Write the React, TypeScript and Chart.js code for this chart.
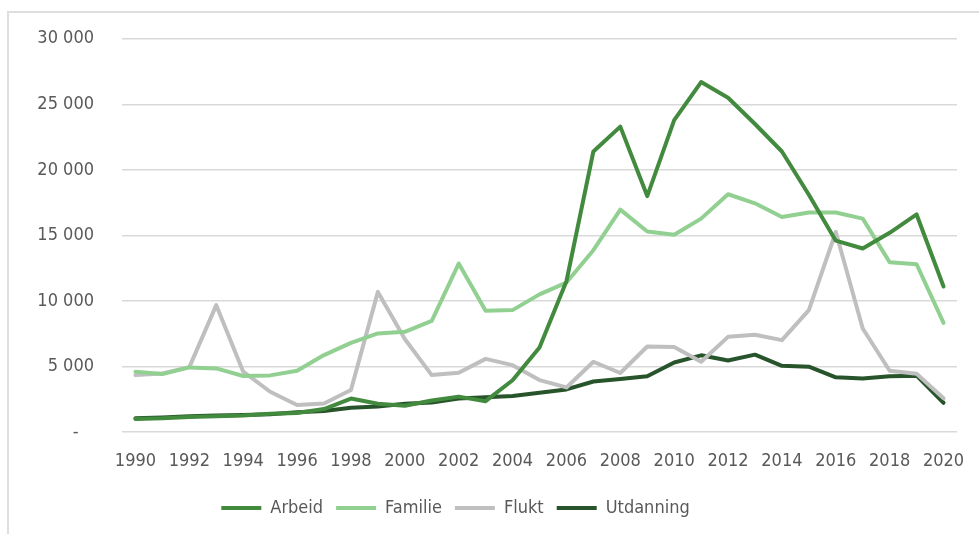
import React, { useEffect, useRef } from "react";
import { Chart, registerables } from "chart.js";

Chart.register(...registerables);

const years = [
  "1990", "1991", "1992", "1993", "1994", "1995", "1996", "1997", "1998", "1999",
  "2000", "2001", "2002", "2003", "2004", "2005", "2006", "2007", "2008", "2009",
  "2010", "2011", "2012", "2013", "2014", "2015", "2016", "2017", "2018", "2019", "2020",
];

const arbeid = [
  1000, 1050, 1150, 1200, 1250, 1400, 1450, 1750, 2550, 2150,
  2000, 2400, 2700, 2350, 3950, 6450, 11500, 21400, 23300, 18000,
  23800, 26700, 25500, 23500, 21400, 18100, 14600, 14000, 15200, 16600, 11100,
];

const familie = [
  4600, 4420, 4930, 4850, 4270, 4320, 4670, 5870, 6800, 7520,
  7640, 8480, 12850, 9250, 9300, 10500, 11400, 13870, 16970, 15300,
  15050, 16280, 18140, 17450, 16400, 16750, 16750, 16280, 12950, 12800, 8330,
];

const flukt = [
  4340, 4470, 4950, 9680, 4600, 3070, 2060, 2180, 3200, 10690,
  7100, 4340, 4520, 5580, 5100, 3960, 3400, 5360, 4500, 6520,
  6480, 5360, 7260, 7420, 7010, 9300, 15260, 7900, 4670, 4450, 2570,
];

const utdanning = [
  1040, 1100, 1200, 1250, 1300, 1350, 1500, 1600, 1850, 1950,
  2150, 2250, 2550, 2650, 2750, 3000, 3250, 3850, 4050, 4250,
  5300, 5850, 5450, 5900, 5050, 4980, 4170, 4090, 4250, 4300, 2230,
];

const seriesNames = ["Arbeid", "Familie", "Flukt", "Utdanning"];
const seriesColors = ["#428a3e", "#92d092", "#bfbfbf", "#27542a"];

const FONT = '"DejaVu Sans Condensed", "DejaVu Sans", sans-serif';
const TEXT = "#595959";

function fmt(v: number): string {
  if (v === 0) return "-   ";
  return String(Math.round(v)).replace(/\B(?=(\d{3})+(?!\d))/g, " ");
}

const legendShift = {
  id: "legendShift",
  afterLayout(chart: any) {
    if (chart.legend) {
      chart.legend.left -= 23;
      chart.legend.right -= 23;
    }
  },
};

export default function App() {
  const ref = useRef<HTMLCanvasElement | null>(null);

  useEffect(() => {
    if (!ref.current) return;
    const values = [arbeid, familie, flukt, utdanning];
    const chart = new Chart(ref.current, {
      type: "line",
      data: {
        labels: years,
        datasets: values.map((d, i) => ({
          label: seriesNames[i],
          data: d,
          borderColor: seriesColors[i],
          backgroundColor: seriesColors[i],
          borderWidth: 4,
          pointRadius: 0,
          tension: 0,
          borderCapStyle: "round" as const,
          borderJoinStyle: "round" as const,
        })),
      },
      plugins: [legendShift],
      options: {
        animation: false,
        responsive: false,
        maintainAspectRatio: false,
        layout: { padding: { top: 38, left: 0, right: 22, bottom: 7 } },
        plugins: {
          tooltip: { enabled: false },
          legend: {
            position: "bottom",
            labels: {
              usePointStyle: true,
              pointStyle: "line",
              pointStyleWidth: 40,
              padding: 13,
              color: TEXT,
              font: { family: FONT, size: 18 },
            },
          },
        },
        scales: {
          x: {
            offset: true,
            grid: { display: false, drawTicks: false },
            border: { display: false },
            ticks: {
              autoSkip: false,
              maxRotation: 0,
              padding: 19,
              color: TEXT,
              font: { family: FONT, size: 18 },
              callback: (_v: any, i: number) => (i % 2 === 0 ? years[i] : null),
            },
            afterFit: (s: any) => {
              s.height = 54;
              s.paddingLeft = 0;
              s.paddingRight = 0;
            },
          },
          y: {
            min: 0,
            max: 30000,
            grid: { color: "#d9d9d9", lineWidth: 1.5, drawTicks: false },
            border: { display: false },
            ticks: {
              stepSize: 5000,
              padding: 28,
              color: TEXT,
              font: { family: FONT, size: 18 },
              callback: (v: any) => fmt(Number(v)),
            },
            afterFit: (s: any) => {
              s.width = 122;
            },
          },
        },
      },
    });
    return () => chart.destroy();
  }, []);

  return (
    <div style={{ position: "fixed", left: 0, top: 0, width: 979, height: 534, background: "#fff", overflow: "hidden" }}>
      <div
        style={{
          position: "absolute",
          left: 7,
          top: 11,
          width: 979,
          height: 534,
          borderTop: "2px solid #dedede",
          borderLeft: "2px solid #dedede",
        }}
      />
      <canvas ref={ref} width={979} height={534} style={{ position: "absolute", left: 0, top: 0, width: 979, height: 534 }} />
    </div>
  );
}
